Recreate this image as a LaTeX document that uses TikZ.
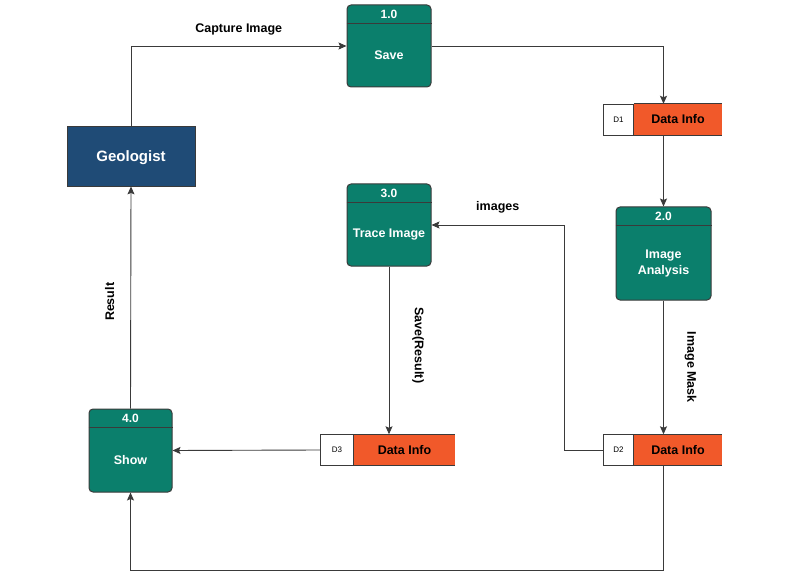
\documentclass[tikz,border=0pt]{standalone}
\usepackage{fontspec}
\setmainfont{Liberation Sans}
\usepackage{xcolor}
\usetikzlibrary{arrows.meta,positioning,calc}
\definecolor{proccol}{HTML}{0B7F6C}
\definecolor{geocol}{HTML}{1F4B76}
\definecolor{storecol}{HTML}{F1592A}
\definecolor{linecol}{HTML}{3A3A3A}

\begin{document}
\begin{tikzpicture}[
		x=1pt, y=-1pt,
		proc/.style={
			rectangle, rounded corners=4pt, draw=linecol, line width=1pt, fill=proccol, minimum width=84pt, minimum height=82pt, inner sep=0pt
		},
		procnum/.style={
			text=white, font=\fontsize{12}{14}\selectfont\bfseries
		},
		proctxt/.style={
			text=white, align=center, font=\fontsize{12.5}{15.5}\selectfont\bfseries
		},
		entity/.style={
			rectangle, draw=linecol, line width=0.8pt, fill=geocol, text=white, minimum width=128pt, minimum height=60pt, font=\fontsize{15}{17}\selectfont\bfseries
		},
		store/.style={
			rectangle, fill=storecol, minimum width=88pt, minimum height=31pt, inner sep=0pt, font=\fontsize{12.5}{15}\selectfont\bfseries
		},
		storeid/.style={
			rectangle, draw=linecol, line width=0.8pt, fill=white, minimum width=30pt, minimum height=31pt, inner sep=0pt, font=\fontsize{8}{10}\selectfont
		},
		flow/.style={
			font=\fontsize{12.5}{15}\selectfont\bfseries
		},
		line/.style={draw=linecol, line width=0.9pt},
		>={Stealth[length=8pt,width=7pt,inset=1.5pt]},
		]
		\useasboundingbox (0,0) rectangle (793,583);
		
		% Processes
		\node [proc] (p1) at (389,46) {};
		\node [proc] (p2) at (663.5,253.5) [minimum width=95pt, minimum height=93pt] {};
		\node [proc] (p3) at (389,225) {};
		\node [proc] (p4) at (130.5,450.5) [minimum width=83pt, minimum height=83pt] {};
		\foreach \p/\n in {p1/1.0, p2/2.0, p3/3.0, p4/4.0} {
			\draw [line, line width=1.4pt] ([yshift=-19pt]\p.north west) -- ([yshift=-19pt]\p.north east);
			\node [procnum] at ([yshift=-10pt]\p.north) {\n};
		}
		\node [proctxt] (p1t) at ([yshift=-9pt]p1.center) {Save};
		\node [proctxt] (p2t) at ([yshift=-10pt]p2.center) {Image\\Analysis};
		\node [proctxt] (p3t) at ([yshift=-10pt]p3.center) {Trace Image};
		\node [proctxt] (p4t) at ([yshift=-10pt]p4.center) {Show};
		
		% External entity
		\node [entity] (geo) at (131,156) {};
		\node [text=white, font=\fontsize{15}{17}\selectfont\bfseries] (geot) at ([yshift=-2pt]geo.center) {Geologist};
		
		% Data stores
		\node [store] (d1) at (678,119.5) {Data Info};
		\node [storeid, left=0pt of d1] (d1id) {D1};
		\node [store] (d2) at (678,450) {Data Info};
		\node [storeid, left=0pt of d2] (d2id) {D2};
		\node [store, minimum width=101pt] (d3) at (404.5,450) {Data Info};
		\node [storeid, left=0pt of d3, minimum width=33pt] (d3id) {D3};
		\foreach \d in {d1, d2, d3} {
			\draw [line] (\d.north west) -- (\d.north east);
			\draw [line] (\d.south west) -- (\d.south east);
		}
		
		% Data flows
		\draw [line, ->] (geo.north) |- node[flow, pos=0.75, above=7pt] {Capture Image} (p1.west);
		\draw [line, ->] (p1.east) -| (p2.north |- d1.north);
		\draw [line, ->] (p2.north |- d1.south) -- (p2.north);
		\draw [line, ->] (p2.south) -- coordinate[pos=0.5] (m2) (p2.south |- d2.north);
		\draw [line, ->] (d2id.west) -| ($(d2id.west)+(-39,0)$) |- node[flow, pos=0.75, above=8pt] {images} (p3.east);
		\draw [line, ->] (p3.south) -- coordinate[pos=0.47] (m3) (p3.south |- d3.north);
		\draw [line, ->] (d3id.west) -- (p4.east);
		\draw [line, ->] (p2.south |- d2.south) |- ($(p4.south)+(0,78)$) -- (p4.south);
		\draw [line, ->] (p4.north) -- coordinate[pos=0.48] (m4) (geo.south);
		
		% Rotated flow labels
		\node [flow, rotate=-90] (lmask) at ([xshift=27pt]m2) {Image Mask};
		\node [flow, rotate=-90] (lsave) at ([xshift=29pt]m3) {Save(Result)};
		\node [flow, rotate=90] (lres) at ([xshift=-21pt]m4) {Result};
		
	\end{tikzpicture}
\end{document}
